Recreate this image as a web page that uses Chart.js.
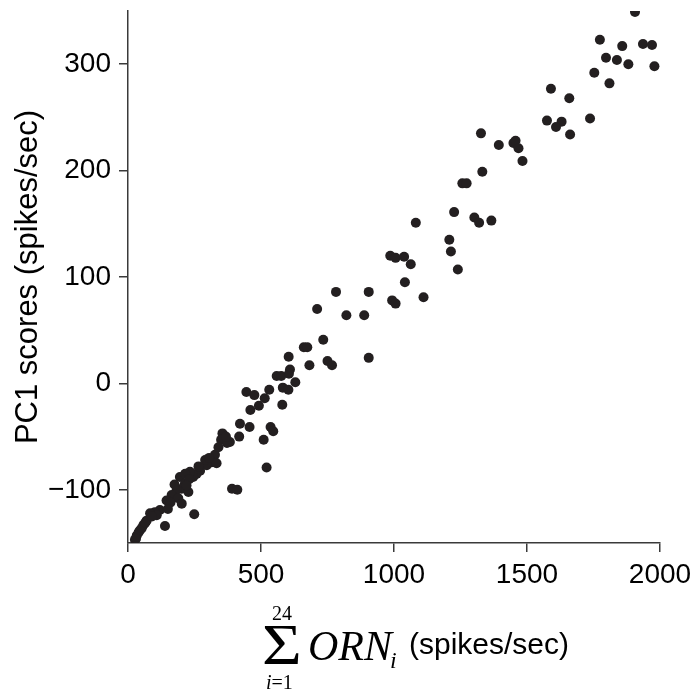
<!DOCTYPE html>
<html>
<head>
<meta charset="utf-8">
<script src="https://cdn.jsdelivr.net/npm/chart.js@4"></script>
<style>
html, body { margin: 0; padding: 0; background: #fff; }
</style>
</head>
<body>
<canvas id="c" width="697" height="693"></canvas>
<script>
// summed ORN rate (x) and PC1 score (y)
const ornSum = [
  1906, 1774, 1858, 1936, 1970, 1797, 1838, 1881, 1979, 1753, 1810, 1590, 1659, 1575, 1630, 1609, 1737, 1662,
  1327, 1394, 1449, 1457, 1468, 1483, 1332, 1257, 1273, 1226, 1302, 1320, 1366, 1208, 1214, 1240,
  1082, 986, 1006, 1038, 1063, 1041, 905, 993, 1006, 1111, 888,
  782, 711, 821, 734, 661, 674, 604, 682, 750, 767, 905,
  559, 576, 609, 605, 629, 582, 603, 531, 445, 475, 514, 492, 580, 460, 421, 457, 536, 546, 418, 510, 383, 521, 391, 411,
  355, 350, 372, 368, 327, 315, 296, 333, 271, 258, 245, 233, 195, 214, 202, 227, 183, 164, 145, 189, 202, 249, 139,
  120, 101, 83, 108, 70, 58, 45, 33, 26, 40, 52, 30, 65,
  175, 215, 230, 160, 150, 90, 290, 305, 340, 265, 220
];
const pc1Score = [
  349, 323, 317, 319, 318, 306, 304, 300, 298, 292, 282, 277, 268, 247, 246, 241, 249, 234,
  235, 224, 226, 228, 221, 209, 199, 188, 188, 161, 156, 151, 153, 135, 124, 107,
  151, 120, 118, 119, 112, 95, 86, 78, 75, 81, 64,
  86, 70, 64, 41, 34, 34, 25, 17, 21, 17, 24,
  7, 7, 13, 9, 1, -4, -6, -6, -8, -11, -14, -21, -20, -25, -38, -41, -41, -45, -50, -53, -55, -79, -99, -100,
  -47, -53, -56, -50, -67, -74, -77, -75, -82, -85, -88, -83, -88, -94, -99, -102, -100, -105, -110, -108, -113, -123, -134,
  -119, -121, -122, -124, -129, -133, -138, -143, -147, -140, -136, -146, -131,
  -95, -85, -90, -112, -118, -125, -72, -70, -60, -78, -96
];
const xTicks = [0, 500, 1000, 1500, 2000];
const yTicks = [-100, 0, 100, 200, 300];

const ink = '#231f20';
const axisInk = '#3a3a3a';
const sans = '"Liberation Sans", Arial, sans-serif';
const serif = '"Liberation Serif", "Times New Roman", serif';

// x axis title: sum over i=1..24 of ORN_i, drawn by hand since it's a formula
const sumTitle = {
  id: 'sumTitle',
  afterDraw(chart) {
    const ctx = chart.ctx;
    const L = chart.chartArea.left;
    ctx.save();
    ctx.fillStyle = '#000';
    ctx.textAlign = 'left';
    ctx.textBaseline = 'alphabetic';
    // big sigma, stretched a little wider like a math operator
    ctx.save();
    ctx.translate(L + 134, 664);
    ctx.scale(1.22, 1);
    ctx.font = '56px ' + serif;
    ctx.fillText('\u03A3', 0, 0);
    ctx.restore();
    ctx.font = '20px ' + serif;
    ctx.fillText('24', L + 144, 620);
    ctx.font = 'italic 20px ' + serif;
    ctx.fillText('i', L + 138, 689);
    const iw = ctx.measureText('i').width;
    ctx.font = '20px ' + serif;
    ctx.fillText('=1', L + 138 + iw, 689);
    ctx.font = 'italic 42px ' + serif;
    ctx.fillText('ORN', L + 180, 660);
    ctx.font = 'italic 24px ' + serif;
    ctx.fillText('i', L + 262, 668);
    ctx.font = '30px ' + sans;
    ctx.fillText('(spikes/sec)', L + 281, 654);
    ctx.restore();
  }
};

function fixTicks(values) {
  return axis => { axis.ticks = values.map(v => ({ value: v })); };
}
function noPad(scale) {
  scale.paddingLeft = 0; scale.paddingRight = 0;
  scale.paddingTop = 0; scale.paddingBottom = 0;
}
const plainNum = v => (v < 0 ? '\u2212' + Math.abs(v) : String(v));

new Chart(document.getElementById('c').getContext('2d'), {
  type: 'scatter',
  data: {
    datasets: [{
      data: ornSum.map((x, i) => ({ x: x, y: pc1Score[i] })),
      backgroundColor: ink,
      borderWidth: 0,
      pointRadius: 5,
      pointHoverRadius: 5
    }]
  },
  options: {
    responsive: false,
    animation: false,
    devicePixelRatio: 1,
    layout: { padding: { top: 11, right: 37, left: 0, bottom: 0 } },
    scales: {
      x: {
        type: 'linear',
        min: 0,
        max: 2000,
        afterBuildTicks: fixTicks(xTicks),
        afterFit: s => { s.height = 150; noPad(s); },
        grid: { drawOnChartArea: false, drawTicks: true, tickLength: 9, color: axisInk, lineWidth: 1.5 },
        border: { display: true, color: axisInk, width: 1.5 },
        ticks: { color: '#000', padding: 6, maxRotation: 0, font: { family: sans, size: 28 }, callback: plainNum }
      },
      y: {
        type: 'linear',
        min: -150,
        max: 350,
        afterBuildTicks: fixTicks(yTicks),
        afterFit: s => { s.width = 128; noPad(s); },
        grid: { drawOnChartArea: false, drawTicks: true, tickLength: 9, color: axisInk, lineWidth: 1.5 },
        border: { display: true, color: axisInk, width: 1.5 },
        ticks: { color: '#000', padding: 8, font: { family: sans, size: 28 }, callback: plainNum },
        title: {
          display: true,
          text: 'PC1 scores (spikes/sec)',
          color: '#000',
          padding: { top: 10, bottom: 0 },
          font: { family: sans, size: 31 }
        }
      }
    },
    plugins: {
      legend: { display: false },
      tooltip: { enabled: false }
    }
  },
  plugins: [sumTitle]
});
</script>
</body>
</html>
